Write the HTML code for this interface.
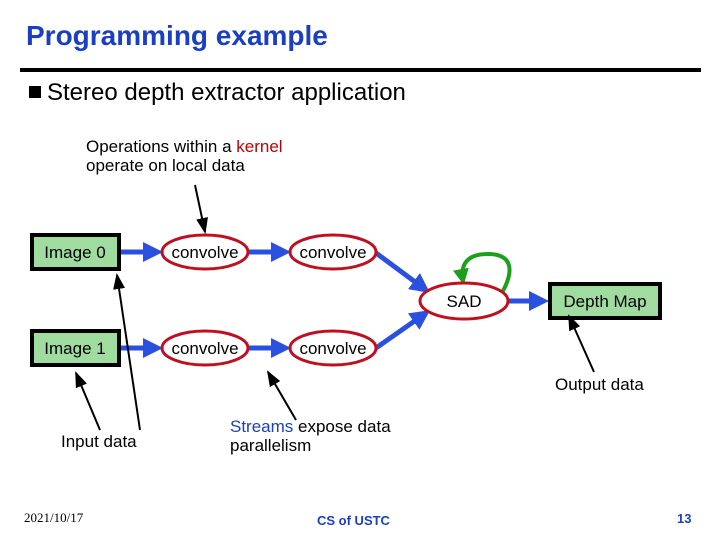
<!DOCTYPE html>
<html><head><style>
body{margin:0;width:720px;height:540px;background:#fff;position:relative;overflow:hidden;font-family:"Liberation Sans",sans-serif}
.t{position:absolute;white-space:nowrap}
</style></head><body>
<div class="t" style="left:26px;top:20px;font-size:28px;font-weight:bold;color:#1a3fc0">Programming example</div>
<div style="position:absolute;left:20px;top:68px;width:681px;height:4px;background:#000"></div>
<div style="position:absolute;left:29px;top:86px;width:12px;height:12px;background:#000"></div>
<div class="t" style="left:47px;top:79px;font-size:24px">Stereo depth extractor application</div>
<div class="t" style="left:86px;top:137px;font-size:17px;line-height:19px">Operations within a <span style="color:#c00000">kernel</span><br>operate on local data</div>
<div class="t" style="left:61px;top:432px;font-size:17px">Input data</div>
<div class="t" style="left:230px;top:417px;font-size:17px;line-height:19px"><span style="color:#1a3fc0">Streams</span> expose data<br>parallelism</div>
<div class="t" style="left:555px;top:375px;font-size:17px">Output data</div>
<div class="t" style="left:24px;top:510px;font-size:13px;font-family:'Liberation Serif',serif">2021/10/17</div>
<div class="t" style="left:317px;top:513px;font-size:13px;font-weight:bold;color:#1a3fc0">CS of USTC</div>
<div class="t" style="left:677px;top:511px;font-size:13px;font-weight:bold;color:#1a3fc0">13</div>
<svg width="720" height="540" style="position:absolute;left:0;top:0" font-family="Liberation Sans" font-size="17">
<defs>
<marker id="b" markerWidth="4" markerHeight="4" refX="3" refY="2" orient="auto" markerUnits="strokeWidth"><path d="M0,0L4,2L0,4z" fill="#2a50e0"/></marker>
<marker id="k" markerWidth="8" markerHeight="8" refX="7" refY="4" orient="auto" markerUnits="strokeWidth"><path d="M0,1L8,4L0,7z" fill="#000"/></marker>
<marker id="g" markerWidth="4" markerHeight="4" refX="3" refY="2" orient="auto" markerUnits="strokeWidth"><path d="M0,0L4,2L0,4z" fill="#1aa01a"/></marker>
</defs>
<g stroke="#2a50e0" stroke-width="5" fill="none">
<line x1="120" y1="252" x2="158" y2="252" marker-end="url(#b)"/>
<line x1="248" y1="252" x2="286" y2="252" marker-end="url(#b)"/>
<line x1="120" y1="348" x2="158" y2="348" marker-end="url(#b)"/>
<line x1="248" y1="348" x2="286" y2="348" marker-end="url(#b)"/>
<line x1="376" y1="253" x2="426" y2="290" marker-end="url(#b)"/>
<line x1="376" y1="348" x2="426" y2="313" marker-end="url(#b)"/>
<line x1="508" y1="301" x2="544" y2="301" marker-end="url(#b)"/>
</g>
<path d="M503,291 C514,270 512,255 490,254 C462,253 461,270 463,281" stroke="#1aa01a" stroke-width="4" fill="none" marker-end="url(#g)"/>
<g fill="#fff" stroke="#c01020" stroke-width="3">
<ellipse cx="205" cy="252" rx="43" ry="17"/>
<ellipse cx="333" cy="252" rx="43" ry="17"/>
<ellipse cx="205" cy="348" rx="43" ry="17"/>
<ellipse cx="333" cy="348" rx="43" ry="17"/>
<ellipse cx="464" cy="301" rx="44" ry="18"/>
</g>
<g fill="#a0dca0" stroke="#000" stroke-width="4">
<rect x="32" y="235" width="87" height="34"/>
<rect x="32" y="331" width="87" height="34"/>
<rect x="550" y="284" width="110" height="34"/>
</g>
<g text-anchor="middle" fill="#000">
<text x="75" y="258">Image 0</text><text x="75" y="354">Image 1</text>
<text x="605" y="307">Depth Map</text>
<text x="205" y="258">convolve</text><text x="333" y="258">convolve</text>
<text x="205" y="354">convolve</text><text x="333" y="354">convolve</text>
<text x="464" y="307">SAD</text>
</g>
<g stroke="#000" stroke-width="2">
<line x1="195" y1="185" x2="205" y2="232" marker-end="url(#k)"/>
<line x1="100" y1="430" x2="76" y2="373" marker-end="url(#k)"/>
<line x1="140" y1="430" x2="117" y2="275" marker-end="url(#k)"/>
<line x1="296" y1="420" x2="268" y2="372" marker-end="url(#k)"/>
<line x1="594" y1="372" x2="569" y2="316" marker-end="url(#k)"/>
</g>
</svg>
</body></html>
